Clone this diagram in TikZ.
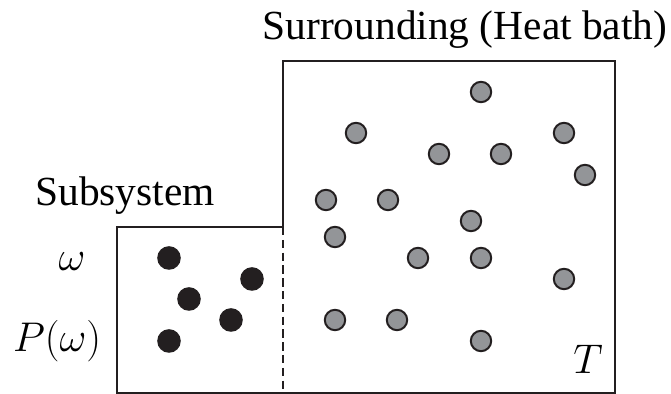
\documentclass[tikz,border=0pt]{standalone}
\usepackage{fontspec}
\setmainfont{Liberation Serif}
\usetikzlibrary{positioning}
\definecolor{sysdot}{HTML}{231F20}
\definecolor{bathdot}{HTML}{939598}

\begin{document}
\begin{tikzpicture}[x=0.5pt,y=-0.5pt,font=\fontsize{20.7}{24}\selectfont,
 sysp/.style={circle,fill=sysdot,inner sep=0pt,minimum size=11.8pt},
 bathp/.style={circle,draw=sysdot,fill=bathdot,line width=1pt,inner sep=0pt,minimum size=10.2pt},
 wall/.style={line width=1.2pt,sysdot},
 mathlabel/.style={font=\fontsize{22}{26}\selectfont}]
\useasboundingbox (0,0) rectangle (671,394);
\coordinate (sw) at (117,393);
\coordinate (nw) at (117,227);
\coordinate (gate) at (283,227);
\coordinate (gatelow) at (283,393);
\coordinate (bnw) at (283,61);
\coordinate (bne) at (615,61);
\coordinate (bse) at (615,393);
\draw[wall] (sw) -- (nw) -- (gate) -- (bnw) -- (bne) -- (bse) -- cycle;
\draw[wall,dash pattern=on 4.2pt off 2.2pt] (gate) -- (gatelow);
\node[sysp] (s1) at (169,258) {};
\node[sysp] (s2) at (252,279) {};
\node[sysp] (s3) at (189,299) {};
\node[sysp] (s4) at (231,320) {};
\node[sysp] (s5) at (169,341) {};
\node[bathp] (b1) at (481,92) {};
\node[bathp] (b2) at (356,133) {};
\node[bathp] (b3) at (564,133) {};
\node[bathp] (b4) at (439,154) {};
\node[bathp] (b5) at (501,154) {};
\node[bathp] (b6) at (585,175) {};
\node[bathp] (b7) at (326,200) {};
\node[bathp] (b8) at (388,200) {};
\node[bathp] (b9) at (471,221) {};
\node[bathp] (b10) at (335,237) {};
\node[bathp] (b11) at (418,258) {};
\node[bathp] (b12) at (481,258) {};
\node[bathp] (b13) at (564,279) {};
\node[bathp] (b14) at (335,320) {};
\node[bathp] (b15) at (397,320) {};
\node[bathp] (b16) at (481,341) {};
\node[anchor=base] (bathlabel) at (465,40) {Surrounding (Heat bath)};
\node[anchor=base west,inner sep=0pt] (syslabel) at (35,206) {Subsystem};
\node[mathlabel] (omega) at (72,262) {$\omega$};
\node[mathlabel] (prob) at (57,341) {$P(\omega)$};
\node[mathlabel] (temp) at (588,359) {$T$};
\end{tikzpicture}
\end{document}
